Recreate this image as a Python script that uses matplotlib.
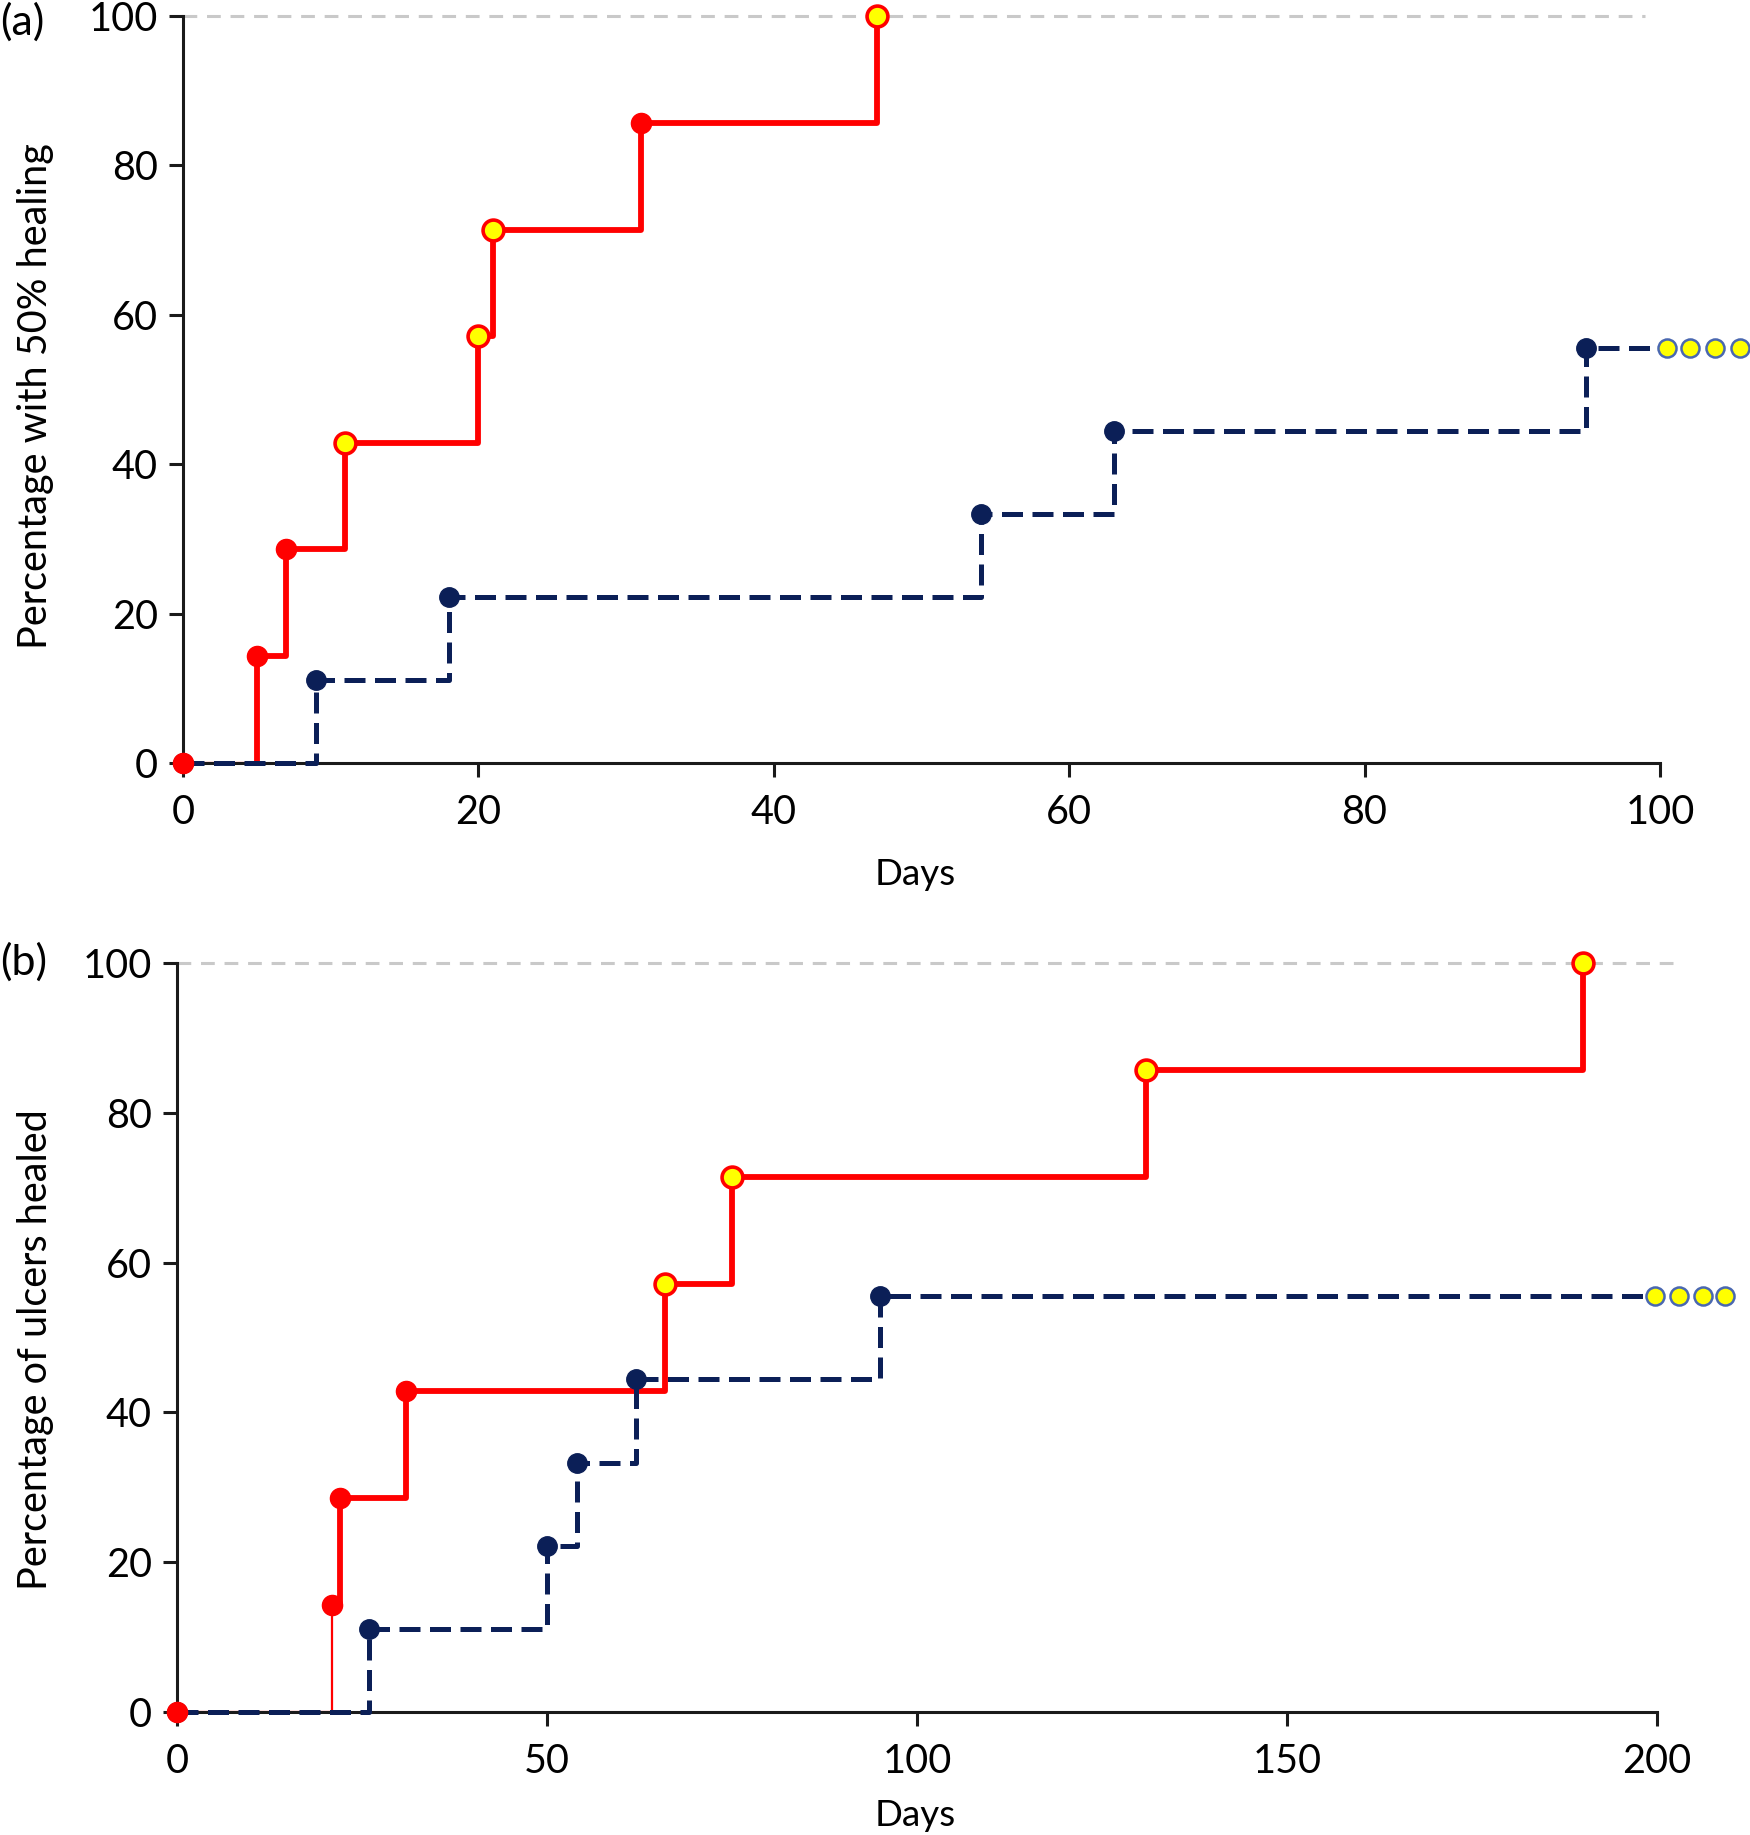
import matplotlib
matplotlib.use("Agg")
import matplotlib.pyplot as plt

plt.rcParams['font.family'] = ['Lato', 'DejaVu Sans']

# ---------------- data ----------------
# Panel (a): time to 50% healing
red_a_x = [0, 5, 7, 11, 20, 21, 31, 47]
red_a_y = [0, 14.3, 28.6, 42.9, 57.1, 71.4, 85.7, 100]
red_a_fill = ['red', 'red', 'red', 'yellow', 'yellow', 'yellow', 'red', 'yellow']

blue_a_x = [0, 9, 18, 54, 63, 95]
blue_a_y = [0, 11.1, 22.2, 33.3, 44.4, 55.6]
blue_a_cens_x = [100.5, 102.0, 103.7, 105.4]

# Panel (b): ulcers healed
red_b_x = [0, 21, 22, 31, 66, 75, 131, 190]
red_b_y = [0, 14.3, 28.6, 42.9, 57.1, 71.4, 85.7, 100]
red_b_fill = ['red', 'red', 'red', 'red', 'yellow', 'yellow', 'yellow', 'yellow']

blue_b_x = [0, 26, 50, 54, 62, 95]
blue_b_y = [0, 11.1, 22.2, 33.3, 44.4, 55.6]
blue_b_cens_x = [199.7, 203.0, 206.2, 209.2]

a_xticks = [0, 20, 40, 60, 80, 100]
b_xticks = [0, 50, 100, 150, 200]
yticks = [0, 20, 40, 60, 80, 100]

RED = '#ff0000'
NAVY = '#0b1f57'
YEL = '#ffff00'
GRAY = '#c9c9c9'
FS_TICK = 28.5
FS_LAB = 28.5
FS_DAYS = 26.5
FS_PANEL = 31

W, H = 1750, 1835
fig = plt.figure(figsize=(W / 100, H / 100), dpi=100)


def px_axes(l, r, t, b):
    return fig.add_axes([l / W, 1 - b / H, (r - l) / W, (b - t) / H])


def draw(ax, rx, ry, rfill, bx, by, bcx, xmax, xticks, ref_end, thin_rise):
    # reference line at 100 %
    ax.plot([0, ref_end], [100, 100], color=GRAY, lw=2.2,
            dashes=(4.5, 3.2), clip_on=False, zorder=1)
    # red curve: thin first segment, thick afterwards
    if thin_rise:
        ax.step(rx[:2], ry[:2], where='post', color=RED, lw=1.6,
                clip_on=False, zorder=2)
        ax.step(rx[1:], ry[1:], where='post', color=RED, lw=4.2,
                clip_on=False, zorder=2)
    else:
        ax.plot(rx[:2], [ry[0], ry[0]], color=RED, lw=1.6,
                clip_on=False, zorder=2)
        ax.step(rx[1:], ry[1:], where='post', color=RED, lw=4.2,
                clip_on=False, zorder=2)
        ax.plot([rx[1], rx[1]], [ry[0], ry[1]], color=RED, lw=4.2,
                clip_on=False, zorder=2)
    # blue dashed curve extended to first censored mark
    bxx = bx + [bcx[0]]
    byy = by + [by[-1]]
    ax.step(bxx, byy, where='post', color=NAVY, lw=3.6,
            dashes=(4.2, 1.9), clip_on=False, zorder=3)
    # blue event markers
    ax.plot(bx, by, 'o', ms=14, color=NAVY, mec=NAVY, clip_on=False, zorder=4)
    # blue censored markers
    ax.plot(bcx, [by[-1]] * len(bcx), 'o', ms=13, mfc=YEL, mec='#4a68b0',
            mew=1.8, clip_on=False, zorder=5)
    # red markers
    for x, y, f in zip(rx, ry, rfill):
        if f == 'red':
            ax.plot(x, y, 'o', ms=14.5, mfc=RED, mec=RED, clip_on=False, zorder=6)
        else:
            ax.plot(x, y, 'o', ms=15, mfc=YEL, mec=RED, mew=2.6,
                    clip_on=False, zorder=6)

    ax.set_xlim(0, xmax)
    ax.set_ylim(0, 100)
    ax.set_xticks(xticks)
    ax.set_yticks(yticks)
    for s in ['top', 'right']:
        ax.spines[s].set_visible(False)
    for s in ['left', 'bottom']:
        ax.spines[s].set_linewidth(2.2)
        ax.spines[s].set_color('#1a1a1a')
    ax.tick_params(direction='out', length=10, width=2.2, color='#1a1a1a',
                   labelsize=FS_TICK)
    ax.tick_params(axis='x', pad=12)
    ax.tick_params(axis='y', pad=8)


ax_a = px_axes(183, 1660, 16, 763)
draw(ax_a, red_a_x, red_a_y, red_a_fill, blue_a_x, blue_a_y, blue_a_cens_x,
     100, a_xticks, 99, False)

ax_b = px_axes(177, 1657, 963, 1712)
draw(ax_b, red_b_x, red_b_y, red_b_fill, blue_b_x, blue_b_y, blue_b_cens_x,
     200, b_xticks, 203, True)

# labels
fig.text(0 / W, 1 - 22 / H, '(a)', fontsize=FS_PANEL, ha='left', va='center')
fig.text(0 / W, 1 - 962 / H, '(b)', fontsize=FS_PANEL, ha='left', va='center')

fig.text(36 / W, 1 - 396 / H, 'Percentage with 50% healing', fontsize=FS_LAB,
         rotation=90, ha='center', va='center')
fig.text(36 / W, 1 - 1350 / H, 'Percentage of ulcers healed', fontsize=FS_LAB,
         rotation=90, ha='center', va='center')

fig.text(915 / W, 1 - 885 / H, 'Days', fontsize=FS_DAYS, ha='center', va='baseline')
fig.text(915 / W, 1 - 1826 / H, 'Days', fontsize=FS_DAYS, ha='center', va='baseline')

fig.savefig('out.png', dpi=100, facecolor='white')
